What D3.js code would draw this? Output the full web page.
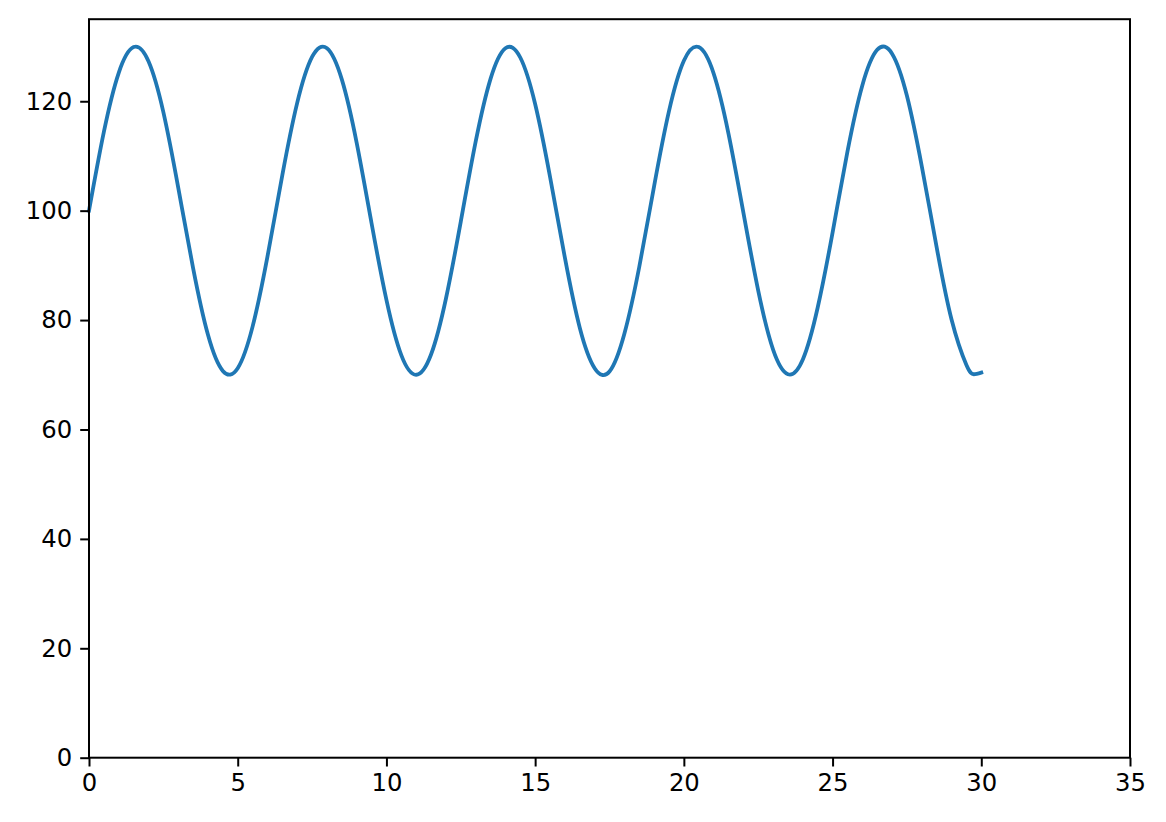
<!DOCTYPE html>
<html><head><meta charset="utf-8">
<script src="https://cdn.jsdelivr.net/npm/d3@7"></script>
<style>body{margin:0;background:#fff}svg{display:block}</style>
</head><body>
<script>
const xValues = [0,0.5,1,1.5,2,2.5,3,3.5,4,4.5,5,5.5,6,6.5,7,7.5,8,8.5,9,9.5,10,10.5,11,11.5,12,12.5,13,13.5,14,14.5,15,15.5,16,16.5,17,17.5,18,18.5,19,19.5,20,20.5,21,21.5,22,22.5,23,23.5,24,24.5,25,25.5,26,26.5,27,27.5,28,28.5,29,29.5,29.75,30];
const yValues = [100,114.4,125.2,129.9,127.3,118.0,104.2,89.5,77.3,70.7,71.2,78.8,91.6,106.5,119.7,128.1,129.7,124.0,112.4,97.7,83.7,73.6,70.0,73.7,83.9,98.0,112.6,124.1,129.7,128.0,119.5,106.2,91.4,78.6,71.2,70.6,77.5,89.7,104.5,118.2,127.4,129.9,125.1,114.1,99.7,85.4,74.6,70.1,72.8,82.3,96.0,110.8,122.9,129.4,128.7,121.0,108.1,93.3,80.1,71.8,70.1,70.4];
const xTicks = [0,5,10,15,20,25,30,35];
const yTicks = [0,20,40,60,80,100,120];

(function(){
const W = 1166, H = 822;
const mLeft = 89, mRight = 1130, mTop = 19.2, mBottom = 757.7;
const svg = d3.select("body").append("svg").attr("width", W).attr("height", H);
const x = d3.scaleLinear().domain([0,35]).range([mLeft,mRight]);
const y = d3.scaleLinear().domain([0,135]).range([mBottom,mTop]);
const font = "DejaVu Sans";

const line = d3.line().x((d,i)=>x(xValues[i])).y(d=>y(d)).curve(d3.curveNatural);
svg.append("path").datum(yValues).attr("d", line).attr("fill","none")
  .attr("stroke","#1f77b4").attr("stroke-width",3.8).attr("stroke-linecap","square");

const xa = svg.append("g").attr("transform",`translate(0,${mBottom})`)
  .call(d3.axisBottom(x).tickValues(xTicks).tickFormat(d3.format("d")).tickSizeInner(8.8).tickSizeOuter(0).tickPadding(7));
const ya = svg.append("g").attr("transform",`translate(${mLeft},0)`)
  .call(d3.axisLeft(y).tickValues(yTicks).tickFormat(d3.format("d")).tickSizeInner(8.8).tickSizeOuter(0).tickPadding(8));
[xa,ya].forEach(a=>{
  a.select(".domain").remove();
  a.selectAll(".tick line").attr("stroke","#000").attr("stroke-width",2);
  a.selectAll("text").attr("font-family",font).attr("font-size",24.3).attr("fill","#000");
});
svg.append("rect").attr("x",mLeft).attr("y",mTop).attr("width",mRight-mLeft).attr("height",mBottom-mTop)
  .attr("fill","none").attr("stroke","#000").attr("stroke-width",2);
})();
</script>
</body></html>
